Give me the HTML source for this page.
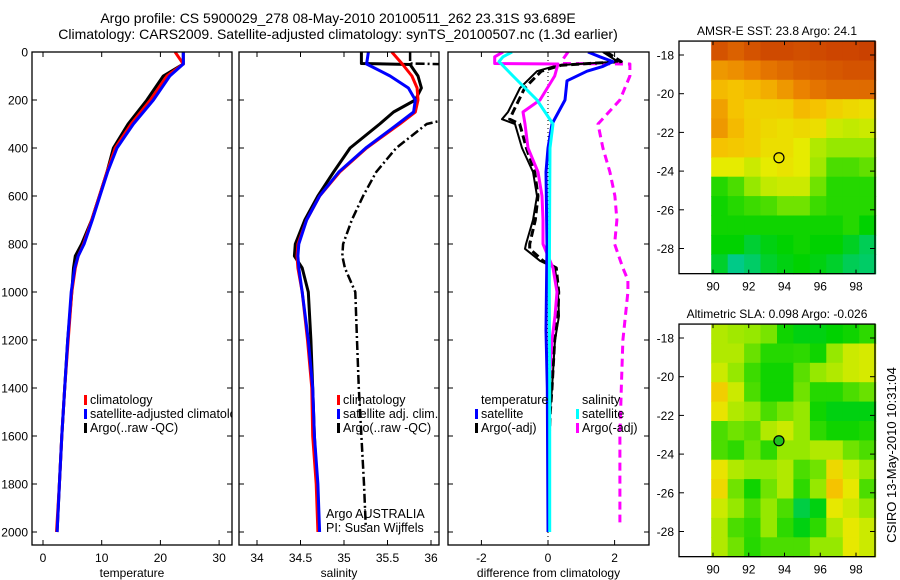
<!DOCTYPE html>
<html><head><meta charset="utf-8">
<style>
html,body{margin:0;padding:0;background:#fff;}
svg{display:block;font-family:"Liberation Sans",sans-serif;}
text{fill:#000;}
</style></head>
<body>
<svg id="fig" width="900" height="580" viewBox="0 0 900 580" xmlns="http://www.w3.org/2000/svg">
<defs>
<clipPath id="c1"><rect x="32" y="52" width="200" height="493"/></clipPath>
<clipPath id="c2"><rect x="239" y="52" width="200" height="493"/></clipPath>
<clipPath id="c3"><rect x="448" y="52" width="201" height="493"/></clipPath>
</defs>
<text x="338" y="23" font-size="14" text-anchor="middle">Argo profile: CS 5900029_278 08-May-2010 20100511_262 23.31S 93.689E</text>
<text x="338" y="39" font-size="14" text-anchor="middle">Climatology: CARS2009. Satellite-adjusted climatology: synTS_20100507.nc (1.3d earlier)</text>
<g id="g1"></g>
<g id="g2"></g>
<g id="g3"></g>
<g id="m1"></g>
<g id="m2"></g>
<text transform="translate(896,455) rotate(-90)" font-size="13" text-anchor="middle">CSIRO 13-May-2010 10:31:04</text>
</svg>
<script>
// ---------- data ----------
const depthTicks = [0,200,400,600,800,1000,1200,1400,1600,1800,2000];
const tempTicks = [0,10,20,30];
const salTicks = [34,34.5,35,35.5,36];
const diffTicks = [-2,0,2];
const lonTicks = [90,92,94,96,98];
const latTicks = [-18,-20,-22,-24,-26,-28];

const tempDepth = [0,50,100,200,300,400,500,600,700,800,850,900,1000,1200,1400,1600,1800,2000];
const tempClim = [22.5,23.9,21.1,18.3,15.0,12.3,10.9,9.6,8.3,6.9,6.0,5.5,4.9,4.3,3.7,3.2,2.8,2.3];
const tempSat  = [23.9,23.9,21.6,18.8,15.4,12.6,11.0,9.7,8.4,7.0,6.0,5.4,4.8,4.2,3.7,3.2,2.8,2.4];
const tempArgo = [23.9,23.9,20.5,17.7,14.5,12.0,10.9,9.6,8.3,6.6,5.5,5.2,4.9,4.2,3.7,3.2,2.8,2.4];

const salDepth = [0,50,100,150,200,250,300,400,500,600,700,800,850,900,1000,1200,1400,1600,1800,2000];
const salClim = [35.55,35.67,35.78,35.84,35.85,35.82,35.64,35.26,34.95,34.72,34.57,34.47,34.46,34.47,34.52,34.58,34.63,34.64,34.68,34.70];
const salSat  = [35.28,35.26,35.53,35.74,35.82,35.80,35.62,35.25,34.94,34.72,34.57,34.48,34.47,34.48,34.52,34.59,34.64,34.66,34.70,34.72];
const salArgoDepth = [0,48,52,100,150,200,250,300,400,500,600,700,800,850,900,1000,1200,1400,1600,1800,1980];
const salArgo = [35.2,35.2,35.76,35.85,35.89,35.82,35.57,35.41,35.07,34.88,34.70,34.55,34.44,34.43,34.52,34.59,34.62,34.64,34.66,34.69,34.71];
const salRawDepth = [0,48,52,270,300,400,500,600,700,800,850,900,1000,1200,1400,1600,1800,1980];
const salRaw = [35.76,35.76,36.3,36.3,35.95,35.6,35.37,35.22,35.09,34.99,34.98,35.01,35.13,35.15,35.17,35.2,35.23,35.25];

const dTSatDepth = [0,20,40,60,80,120,200,300,400,500,800,1160,1400,2000];
const dTSat = [1.2,1.56,1.95,1.65,1.17,0.57,0.51,0.12,0,-0.06,-0.03,-0.06,-0.02,0];
const dSSatDepth = [0,20,40,100,200,300,400,600,1000,1400,2000];
const dSSat = [-1.08,-1.35,-1.47,-1.05,-0.33,0.15,0.06,0.05,0.04,0.05,0.05];
const dSArgoDepth = [0,20,48,50,100,200,250,300,400,500,600,700,800,900,1000,1100,1200,1400,2000];
const dSArgo = [-1.35,-1.6,-1.6,0.3,0.2,-0.24,-0.75,-0.69,-0.6,-0.3,-0.18,-0.15,-0.15,0.15,0.27,0.21,0.12,0.03,0.03];
const dSRawDepth = [0,30,48,50,100,200,300,400,500,600,700,800,900,950,1000,1200,1400,1600,1800,1960];
const dSRaw = [0.6,0.45,0.45,2.46,2.46,2.16,1.5,1.65,1.86,2.01,2.07,2.0,2.25,2.4,2.4,2.25,2.2,2.16,2.16,2.16];
const dTArgoDepth = [0,40,55,80,150,250,280,300,400,500,600,700,800,820,870,900,1000,1100,1200,1400,1500,1600,2000];
const dTArgo = [1.65,2.1,0.3,-0.33,-0.84,-1.2,-1.38,-0.99,-0.78,-0.45,-0.33,-0.45,-0.66,-0.69,-0.24,0.21,0.3,0.33,0.21,0.12,0.06,0.03,0];
const dTRaw = [1.75,2.2,0.4,-0.2,-0.7,-1.05,-1.15,-0.85,-0.65,-0.4,-0.3,-0.38,-0.55,-0.55,-0.15,0.25,0.32,0.3,0.2,0.12,0.07,0.04,0.02];

const sstGrid = [
[0.95,0.92,0.95,0.97,0.97,0.96,0.97,0.98,0.98,0.99],
[0.80,0.82,0.85,0.88,0.90,0.92,0.93,0.94,0.95,0.95],
[0.72,0.70,0.72,0.75,0.80,0.85,0.88,0.90,0.90,0.90],
[0.78,0.70,0.65,0.65,0.66,0.72,0.70,0.65,0.62,0.60],
[0.80,0.72,0.66,0.62,0.60,0.62,0.60,0.50,0.48,0.50],
[0.70,0.68,0.66,0.60,0.60,0.55,0.45,0.40,0.40,0.40],
[0.55,0.55,0.50,0.55,0.58,0.55,0.42,0.30,0.30,0.33],
[0.25,0.30,0.40,0.48,0.50,0.50,0.35,0.25,0.25,0.25],
[0.22,0.25,0.28,0.30,0.35,0.35,0.28,0.25,0.25,0.25],
[0.22,0.22,0.22,0.22,0.22,0.22,0.22,0.22,0.25,0.20],
[0.20,0.20,0.14,0.18,0.20,0.22,0.20,0.20,0.16,0.10],
[0.15,0.04,0.08,0.15,0.18,0.20,0.18,0.15,0.10,0.08]];
const slaGrid = [
[0.45,0.42,0.40,0.36,0.22,0.18,0.18,0.20,0.22,0.26],
[0.45,0.45,0.34,0.25,0.25,0.26,0.22,0.40,0.50,0.52],
[0.50,0.40,0.28,0.22,0.22,0.32,0.40,0.45,0.50,0.52],
[0.66,0.50,0.30,0.22,0.22,0.35,0.25,0.25,0.30,0.34],
[0.58,0.45,0.40,0.30,0.36,0.40,0.22,0.18,0.18,0.18],
[0.30,0.35,0.32,0.45,0.50,0.40,0.26,0.22,0.22,0.24],
[0.30,0.26,0.35,0.26,0.40,0.40,0.45,0.45,0.35,0.30],
[0.58,0.45,0.40,0.40,0.45,0.30,0.35,0.62,0.50,0.40],
[0.62,0.35,0.22,0.35,0.45,0.26,0.40,0.70,0.56,0.30],
[0.50,0.40,0.30,0.40,0.30,0.12,0.18,0.56,0.50,0.40],
[0.45,0.30,0.26,0.40,0.26,0.18,0.26,0.45,0.56,0.50],
[0.45,0.35,0.25,0.30,0.30,0.30,0.40,0.40,0.56,0.50]];
const profileLon = 93.69, profileLat = -23.31;

// ---------- helpers ----------
const NS = 'http://www.w3.org/2000/svg';
function mk(parent, tag, attrs){const e=document.createElementNS(NS,tag);for(const k in attrs)e.setAttribute(k,attrs[k]);parent.appendChild(e);return e;}
const Y = d => 52 + d*0.24;
const XT = t => 43 + t*5.87;
const XS = s => 257 + (s-34)*87;
const XD = v => 548 + v*33.3;
function line(g, xs, ds, fx, color, w, dash, name){
  const pts = xs.map((v,i)=>fx(v).toFixed(1)+','+Y(ds[i]).toFixed(1)).join(' ');
  const p = mk(g,'polyline',{points:pts,fill:'none',stroke:color,'stroke-width':w,'stroke-linejoin':'round'});
  if(dash) p.setAttribute('stroke-dasharray',dash);
  
  
  return p;
}
function frame(g, x0, x1, xt, fx, labels, xlabel, name){
  const r = mk(g,'rect',{x:x0,y:52,width:x1-x0,height:493,fill:'none',stroke:'#000','stroke-width':1.3});
  
  
  depthTicks.forEach(d=>{
    mk(g,'line',{x1:x0,x2:x0+5,y1:Y(d),y2:Y(d),stroke:'#000'});
    mk(g,'line',{x1:x1-5,x2:x1,y1:Y(d),y2:Y(d),stroke:'#000'});
    if(labels){const t=mk(g,'text',{x:x0-4,y:Y(d)+4.5,'font-size':12,'text-anchor':'end'});t.textContent=d;
      
      }
  });
  xt.forEach(v=>{
    mk(g,'line',{x1:fx(v),x2:fx(v),y1:545,y2:540,stroke:'#000'});
    mk(g,'line',{x1:fx(v),x2:fx(v),y1:52,y2:57,stroke:'#000'});
    const t=mk(g,'text',{x:fx(v),y:562,'font-size':12,'text-anchor':'middle'});t.textContent=v;
    
    
  });
  const t=mk(g,'text',{x:(x0+x1)/2,y:577,'font-size':12,'text-anchor':'middle'});t.textContent=xlabel;
  
  
}
function legend(g, x, y, color, label, name){
  mk(g,'rect',{x:x-6,y:y-9,width:3,height:10,fill:color});
  const t=mk(g,'text',{x:x,y:y,'font-size':12.5});t.textContent=label;
  
  
}

// ---------- panel 1 ----------
const g1=document.getElementById('g1');
const d1=mk(g1,'g',{'clip-path':'url(#c1)'});
line(d1,tempArgo,tempDepth,XT,'#000',3,null,'temperature-argo-line');
line(d1,tempClim,tempDepth,XT,'#f00',3,null,'temperature-climatology-line');
line(d1,tempSat,tempDepth,XT,'#00f',3,null,'temperature-satellite-line');
frame(g1,32,232,tempTicks,XT,true,'temperature','temperature');
const l1=mk(g1,'g',{'clip-path':'url(#c1)'});
legend(l1,90,404,'#f00','climatology','legend-climatology');
legend(l1,90,418,'#00f','satellite-adjusted climatology','legend-satellite-adjusted');
legend(l1,90,432,'#000','Argo(..raw -QC)','legend-argo');

// ---------- panel 2 ----------
const g2=document.getElementById('g2');
const d2=mk(g2,'g',{'clip-path':'url(#c2)'});
line(d2,salRaw,salRawDepth,XS,'#000',2.5,'9,3,2,3','salinity-argo-raw-line');
line(d2,salArgo,salArgoDepth,XS,'#000',3,null,'salinity-argo-line');
line(d2,salClim,salDepth,XS,'#f00',3,null,'salinity-climatology-line');
line(d2,salSat,salDepth,XS,'#00f',3,null,'salinity-satellite-line');
frame(g2,239,439,salTicks,XS,false,'salinity','salinity');
legend(g2,343,404,'#f00','climatology','legend-climatology-sal');
legend(g2,343,418,'#00f','satellite adj. clim.','legend-satellite-sal');
legend(g2,343,432,'#000','Argo(..raw -QC)','legend-argo-sal');
[['Argo AUSTRALIA',518],['PI: Susan Wijffels',532]].forEach(([s,y])=>{const t=mk(g2,'text',{x:326,y:y,'font-size':12.5});t.textContent=s;
  
  });

// ---------- panel 3 ----------
const g3=document.getElementById('g3');
const d3=mk(g3,'g',{'clip-path':'url(#c3)'});
mk(d3,'line',{x1:XD(0),x2:XD(0),y1:52,y2:545,stroke:'#000','stroke-width':1,'stroke-dasharray':'1,3'});
line(d3,dSRaw,dSRawDepth,XD,'#f0f',3,'8,5','salinity-argo-raw-diff-line');
line(d3,dTRaw,dTArgoDepth,XD,'#000',3,'8,4','temperature-argo-raw-diff-line');
line(d3,dTArgo,dTArgoDepth,XD,'#000',2,null,'temperature-argo-diff-line');
line(d3,dSArgo,dSArgoDepth,XD,'#f0f',3,null,'salinity-argo-diff-line');
line(d3,dTSat,dTSatDepth,XD,'#00f',3,null,'temperature-satellite-diff-line');
line(d3,dSSat,dSSatDepth,XD,'#0ff',3,null,'salinity-satellite-diff-line');
frame(g3,448,649,diffTicks,XD,false,'difference from climatology','difference');
{const t=mk(g3,'text',{x:481,y:404,'font-size':12.5});t.textContent='temperature';
 
 }
legend(g3,481,418,'#00f','satellite','legend-temp-satellite');
legend(g3,481,432,'#000','Argo(-adj)','legend-temp-argo');
{const t=mk(g3,'text',{x:582,y:404,'font-size':12.5});t.textContent='salinity';
 
 }
legend(g3,582,418,'#0ff','satellite','legend-sal-satellite');
legend(g3,582,432,'#f0f','Argo(-adj)','legend-sal-argo');

// ---------- maps ----------
const stops=[[0,[0,200,170]],[0.2,[0,210,0]],[0.4,[150,232,0]],[0.55,[230,235,0]],[0.7,[245,195,0]],[0.85,[235,130,0]],[1,[200,60,0]]];
function cmap(v){for(let i=1;i<stops.length;i++){if(v<=stops[i][0]){const a=stops[i-1],b=stops[i],f=(v-a[0])/(b[0]-a[0]);
  return 'rgb('+a[1].map((c,k)=>Math.round(c+(b[1][k]-c)*f)).join(',')+')';}}return 'rgb(200,60,0)';}
function drawMap(id, top, grid, title, dotFill, name){
  const g=document.getElementById(id);
  const LX = lon => 713 + (lon-90)*17.875;
  const LY = lat => top + 14 + (-18-lat)*19.35;
  const lon0=89.9, lon1=99.1, lat0=-17.28, lat1=-29.3;
  const nr=grid.length, nc=grid[0].length;
  const dlon=(lon1-lon0)/nc, dlat=(lat0-lat1)/nr;
  grid.forEach((row,r)=>row.forEach((v,c)=>{
    const x=LX(lon0+c*dlon), y=LY(lat0-r*dlat);
    const cell=mk(g,'rect',{x:x.toFixed(1),y:y.toFixed(1),width:(LX(lon0+(c+1)*dlon)-x+0.6).toFixed(1),height:(LY(lat0-(r+1)*dlat)-y+0.6).toFixed(1),fill:cmap(v)});
    
    
  }));
  const fr=mk(g,'rect',{x:679,y:LY(lat0),width:196,height:LY(lat1)-LY(lat0),fill:'none',stroke:'#000','stroke-width':1.3});
  
  
  const yb=LY(lat1);
  lonTicks.forEach(l=>{mk(g,'line',{x1:LX(l),x2:LX(l),y1:yb,y2:yb-4,stroke:'#000'});
    mk(g,'line',{x1:LX(l),x2:LX(l),y1:LY(lat0),y2:LY(lat0)+4,stroke:'#000'});
    const t=mk(g,'text',{x:LX(l),y:yb+17,'font-size':12,'text-anchor':'middle'});t.textContent=l;
    
    });
  latTicks.forEach(l=>{mk(g,'line',{x1:679,x2:684,y1:LY(l),y2:LY(l),stroke:'#000'});
    mk(g,'line',{x1:870,x2:875,y1:LY(l),y2:LY(l),stroke:'#000'});
    const t=mk(g,'text',{x:674,y:LY(l)+4.5,'font-size':12,'text-anchor':'end'});t.textContent=l;
    
    });
  const t=mk(g,'text',{x:777,y:LY(lat0)-6,'font-size':12,'text-anchor':'middle'});t.textContent=title;
  
  
  const ci=mk(g,'circle',{cx:LX(profileLon),cy:LY(profileLat),r:5,fill:dotFill,stroke:'#000','stroke-width':1.2});
  
  
}
drawMap('m1',41,sstGrid,'AMSR-E SST: 23.8  Argo: 24.1','none','sst-map');
drawMap('m2',324,slaGrid,'Altimetric SLA: 0.098  Argo: -0.026','#20c020','sla-map');
</script>
</body></html>
